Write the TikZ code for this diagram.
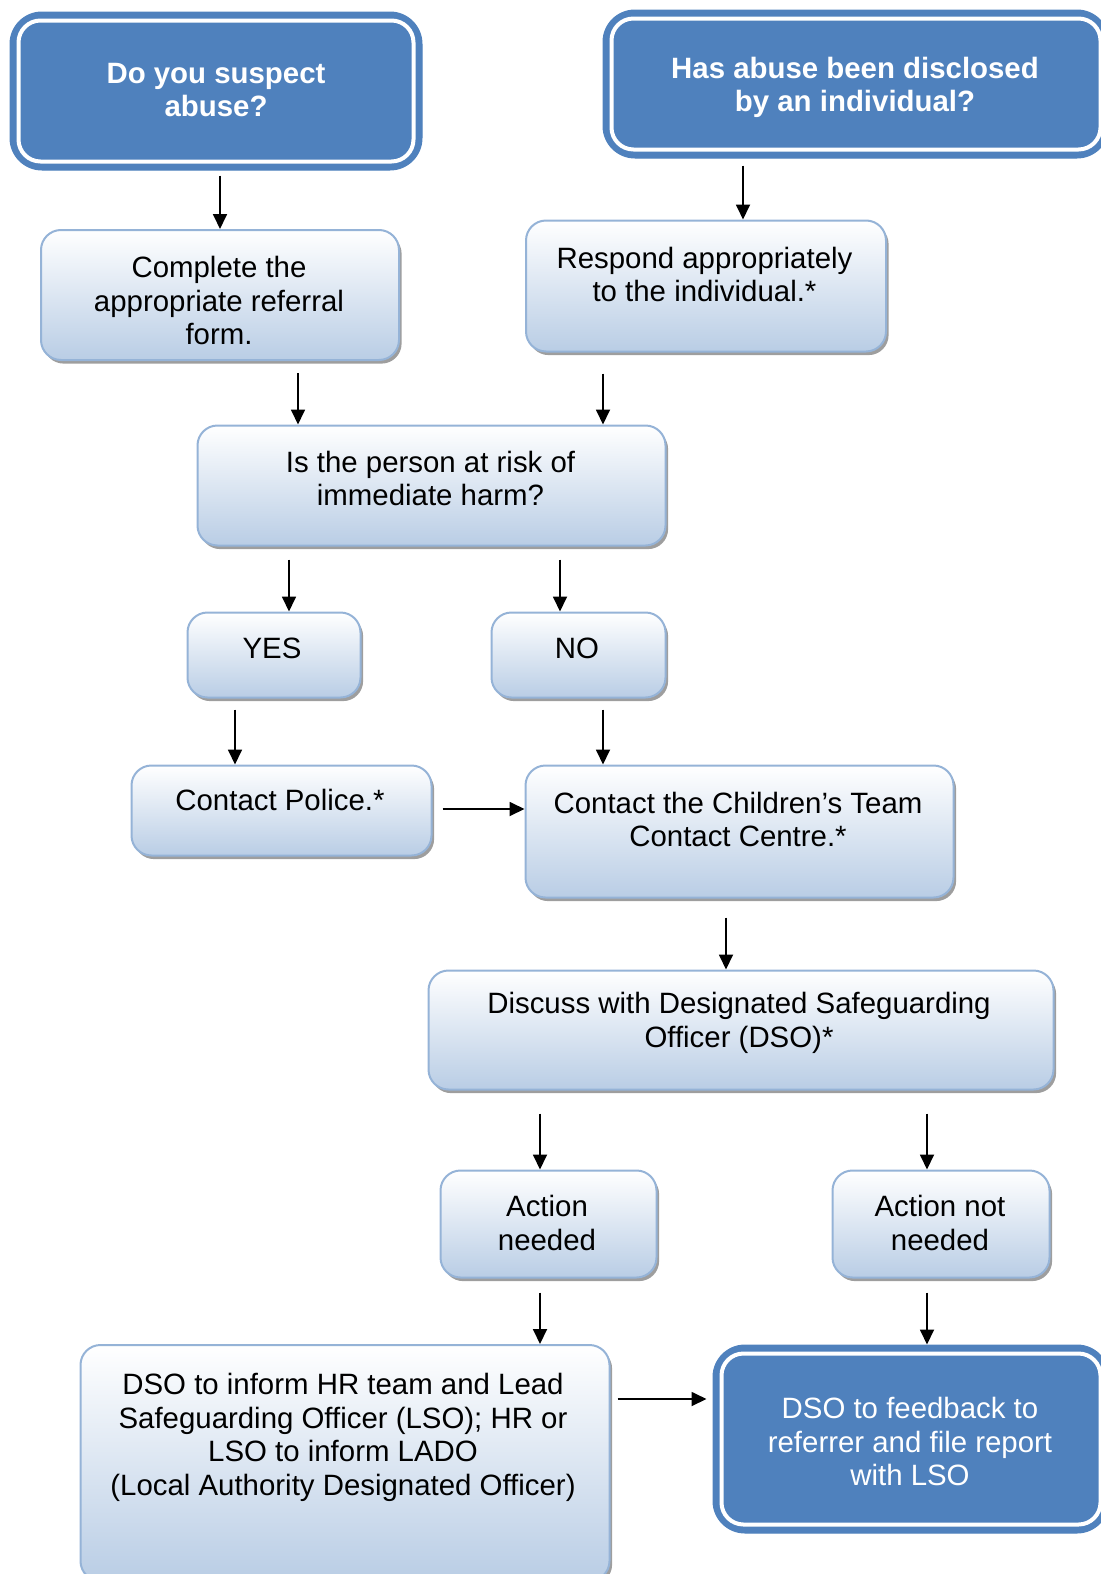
\documentclass[tikz,border=0pt]{standalone}
\usepackage{fontspec}
\setmainfont{Liberation Sans}
\usetikzlibrary{arrows.meta,shadows}

\definecolor{darkblue}{HTML}{4F81BD}
\definecolor{paleblue}{HTML}{B9CDE5}
\definecolor{edgeblue}{HTML}{95B3D7}

\tikzset{
  lightbox/.style={rectangle, rounded corners=10pt, draw=edgeblue, line width=1pt,
    top color=white, bottom color=paleblue, inner sep=0pt,
    drop shadow={shadow xshift=1.3pt, shadow yshift=-1.8pt, fill=black, opacity=0.38}},
  darkbox/.style={rectangle, rounded corners=16pt, fill=darkblue, draw=darkblue,
    line width=0.5pt, inner sep=0pt},
  innerline/.style={draw=white, line width=2pt, rounded corners=11pt},
  txt/.style={align=center, inner sep=0pt, font=\fontsize{14.7}{16.8}\selectfont},
  headtxt/.style={txt, text=white, font=\fontsize{14.7}{16.8}\selectfont\bfseries},
  wtxt/.style={txt, text=white},
  arr/.style={-{Triangle[width=7pt,length=7.5pt]}, line width=0.9pt, black},
}

\begin{document}
\begin{tikzpicture}[x=0.5pt, y=-0.5pt]
\useasboundingbox (0,0) rectangle (1100,1574);

% start questions
\node[darkbox, minimum width=206pt, minimum height=79pt] (suspect) at (216,91) {};
\draw[innerline] ([shift={(9,9)}]suspect.north west) rectangle ([shift={(-9,-9)}]suspect.south east);
\node[headtxt] (suspect-t) at (216,90) {Do you suspect\\abuse?};

\node[darkbox, minimum width=253pt, minimum height=74pt] (disclosed) at (856,84) {};
\draw[innerline] ([shift={(9,9)}]disclosed.north west) rectangle ([shift={(-9,-9)}]disclosed.south east);
\node[headtxt] (disclosed-t) at (855,87.5) {Has abuse been disclosed\\by an individual?};

% process steps
\node[lightbox, minimum width=179pt, minimum height=65pt] (complete) at (220,295) {};
\node[txt] (complete-t) at (219,300.5) {Complete the\\appropriate referral\\form.};

\node[lightbox, minimum width=180pt, minimum height=65.5pt] (respond) at (706,286) {};
\node[txt] (respond-t) at (704.5,274.5) {Respond appropriately\\to the individual.*};

\node[lightbox, minimum width=234pt, minimum height=60pt] (risk) at (431.5,485.5) {};
\node[txt] (risk-t) at (430.5,478.5) {Is the person at risk of\\immediate harm?};

\node[lightbox, minimum width=86.5pt, minimum height=42.5pt] (yes) at (274,655) {};
\node[txt] (yes-t) at (272,648) {YES};

\node[lightbox, minimum width=87pt, minimum height=42.5pt] (no) at (578.5,655) {};
\node[txt] (no-t) at (577,648) {NO};

\node[lightbox, minimum width=150pt, minimum height=45pt] (police) at (281.5,810.5) {};
\node[txt] (police-t) at (280,800) {Contact Police.*};

\node[lightbox, minimum width=214pt, minimum height=66pt] (children) at (739.5,831.5) {};
\node[txt] (children-t) at (738,819.5) {Contact the Children's Team\\Contact Centre.*};

\node[lightbox, minimum width=312.5pt, minimum height=59.5pt] (discuss) at (741,1030) {};
\node[txt] (discuss-t) at (739,1023) {Discuss with Designated Safeguarding\\Officer (DSO)*};

\node[lightbox, minimum width=108pt, minimum height=53.5pt] (action) at (548.5,1224) {};
\node[txt] (action-t) at (547,1223) {Action\\needed};

\node[lightbox, minimum width=108.5pt, minimum height=53.5pt] (noaction) at (941,1224) {};
\node[txt] (noaction-t) at (940,1223) {Action not\\needed};

\node[lightbox, minimum width=264.5pt, minimum height=118pt] (inform) at (345,1463) {};
\node[txt] (inform-t) at (343,1437.5) {DSO to inform HR team and Lead\\Safeguarding Officer (LSO); HR or\\LSO to inform LADO\\(Local Authority Designated Officer)};

\node[darkbox, minimum width=198pt, minimum height=94pt] (feedback) at (911,1439) {};
\draw[innerline] ([shift={(9,9)}]feedback.north west) rectangle ([shift={(-9,-9)}]feedback.south east);
\node[wtxt] (feedback-t) at (910,1441.5) {DSO to feedback to\\referrer and file report\\with LSO};

% connectors
\draw[arr, shorten <=2.5pt] (suspect.south -| 220,0) -- (complete.north -| 220,0);
\draw[arr, shorten <=3.5pt] (disclosed.south -| 743,0) -- (respond.north -| 743,0);
\draw[arr, shorten <=6pt] (complete.south -| 298,0) -- (risk.north -| 298,0);
\draw[arr, shorten <=10.5pt] (respond.south -| 603,0) -- (risk.north -| 603,0);
\draw[arr, shorten <=6.5pt] (risk.south -| 289,0) -- (yes.north -| 289,0);
\draw[arr, shorten <=6.5pt] (risk.south -| 560,0) -- (no.north -| 560,0);
\draw[arr, shorten <=5.5pt] (yes.south -| 235,0) -- (police.north -| 235,0);
\draw[arr, shorten <=5.5pt] (no.south -| 603,0) -- (children.north -| 603,0);
\draw[arr, shorten <=5pt] (police.east |- 0,809) -- (children.west |- 0,809);
\draw[arr, shorten <=9.5pt] (children.south -| 726,0) -- (discuss.north -| 726,0);
\draw[arr, shorten <=11.5pt] (discuss.south -| 540,0) -- (action.north -| 540,0);
\draw[arr, shorten <=11.5pt] (discuss.south -| 927,0) -- (noaction.north -| 927,0);
\draw[arr, shorten <=7pt] (action.south -| 540,0) -- (inform.north -| 540,0);
\draw[arr, shorten <=7pt] (noaction.south -| 927,0) -- (feedback.north -| 927,0);
\draw[arr, shorten <=3.5pt, shorten >=3pt] (inform.east |- 0,1399) -- (feedback.west |- 0,1399);
\end{tikzpicture}
\end{document}
